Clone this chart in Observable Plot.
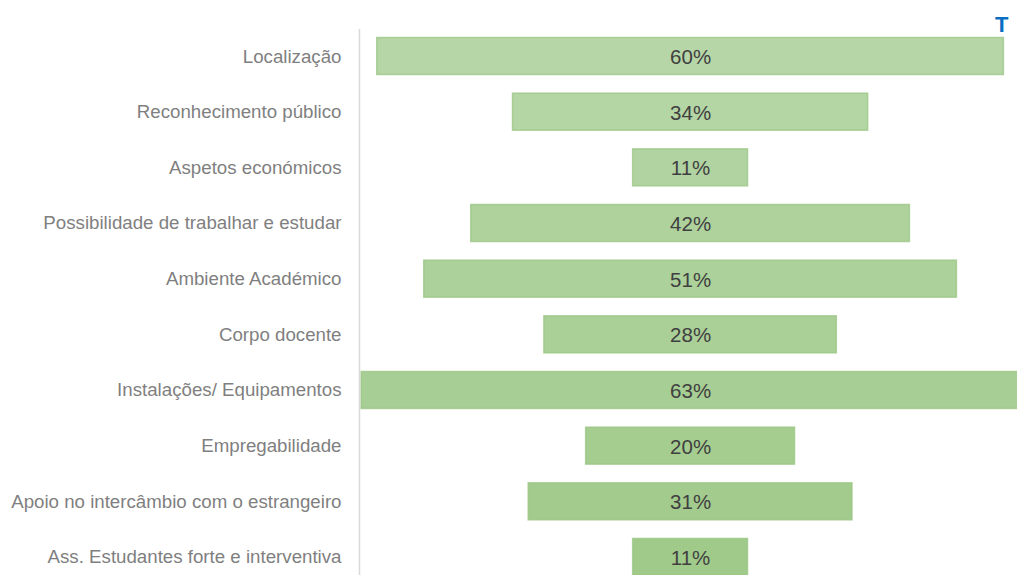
<!DOCTYPE html>
<html>
<head>
<meta charset="utf-8">
<script src="https://cdn.jsdelivr.net/npm/d3@7"></script>
<script src="https://cdn.jsdelivr.net/npm/@observablehq/plot@0.6"></script>
<style>
  html, body { margin: 0; padding: 0; background: #ffffff; overflow: hidden; }
  #chart svg { display: block; }
</style>
</head>
<body>
<div id="chart"></div>
<script>
const categories = [
  "Localização",
  "Reconhecimento público",
  "Aspetos económicos",
  "Possibilidade de trabalhar e estudar",
  "Ambiente Académico",
  "Corpo docente",
  "Instalações/ Equipamentos",
  "Empregabilidade",
  "Apoio no intercâmbio com o estrangeiro",
  "Ass. Estudantes forte e interventiva"
];
const values = [60, 34, 11, 42, 51, 28, 63, 20, 31, 11];
const cornerMark = ["T"];

const data = categories.map((c, i) => ({category: c, value: values[i], idx: i}));

const chart = Plot.plot({
  width: 1017,
  height: 600,
  marginLeft: 359,
  marginRight: 0,
  marginTop: 29,
  marginBottom: 16,
  style: {fontFamily: "'Liberation Sans', Arial, sans-serif", background: "#ffffff"},
  x: {domain: [-31.7, 31.3], axis: null},
  y: {domain: categories, paddingInner: 0.335, paddingOuter: 0.153, round: false, label: null},
  color: {type: "linear", domain: [0, categories.length - 1], range: ["#b6d6a7", "#a0ca8a"]},
  marks: [
    Plot.axisY({tickSize: 0, tickPadding: 18, fontSize: 18.7, fill: "#7f7f7f", label: null}),
    Plot.barX(data, {
      y: "category",
      x1: d => -d.value / 2,
      x2: d => d.value / 2,
      fill: "idx",
      stroke: "#98c583",
      strokeWidth: 1.5,
      strokeOpacity: 0.75
    }),
    Plot.ruleX([-31.7], {stroke: "#d9d9d9", strokeWidth: 1.5}),
    Plot.text(data, {
      y: "category",
      x: 0,
      text: d => d.value + "%",
      fill: "#404040",
      fontSize: 20.5,
      dy: 1
    }),
    Plot.text(cornerMark, {
      x: 29.8,
      frameAnchor: "top",
      text: d => d,
      lineAnchor: "bottom",
      dy: 2,
      fill: "#0a6fc2",
      fontSize: 22,
      fontWeight: "bold"
    })
  ]
});
document.getElementById("chart").appendChild(chart);
</script>
</body>
</html>
